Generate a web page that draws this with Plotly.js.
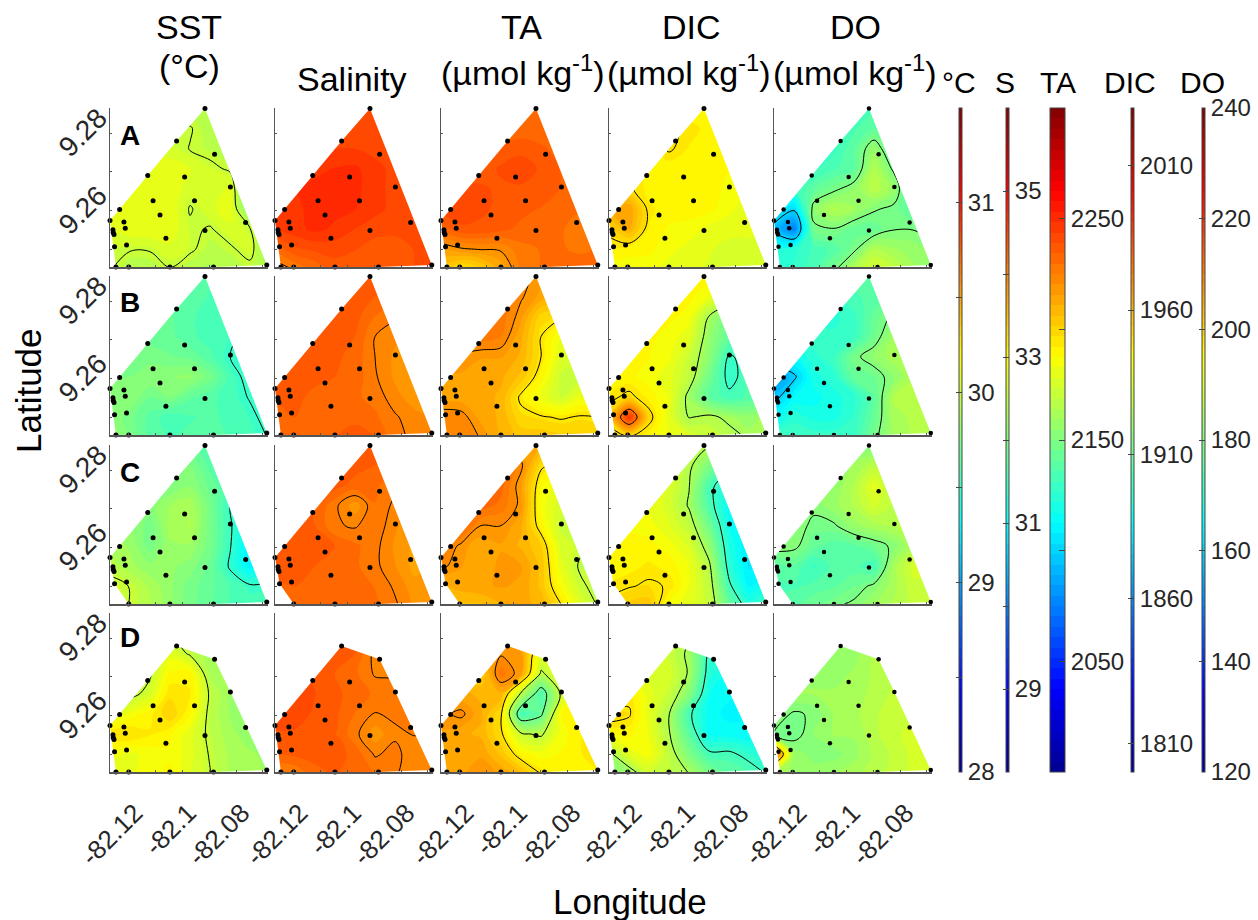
<!DOCTYPE html>
<html><head><meta charset="utf-8">
<script src="https://cdn.plot.ly/plotly-3.0.1.min.js"></script>
<style>html,body{margin:0;padding:0;background:#fff}</style></head>
<body><div id="chart" style="width:1258px;height:920px"></div>
<script>
const gridLon=[-82.1271,-82.1196,-82.1122,-82.1047,-82.0972,-82.0897,-82.0822,-82.0748,-82.0673];
const gridLat=[9.2864,9.2812,9.2760,9.2709,9.2657,9.2605,9.2553,9.2501,9.2450];
const stationLon=[-82.0916,-82.1022,-82.0880,-82.1130,-82.0992,-82.0821,-82.1110,-82.0955,-82.1235,-82.1084,-82.1271,-82.1219,-82.1214,-82.0764,-82.0916,-82.1260,-82.1259,-82.1256,-82.1062,-82.1254,-82.1209,-82.1249,-82.1201,-82.1047,-82.0884,-82.0685];
const stationLat=[9.2864,9.2780,9.2746,9.2691,9.2687,9.2661,9.2626,9.2626,9.2603,9.2589,9.2575,9.2571,9.2555,9.2570,9.2549,9.2551,9.2544,9.2539,9.2529,9.2507,9.2512,9.2455,9.2455,9.2455,9.2455,9.2460];
const missingStations=[[],[2,13],[21],[0]];

const sstA=[[29.93,29.93,29.93,29.93,29.93,29.93,29.93,29.93,29.93],
[30,30,30,29.97,30.01,29.93,29.9,29.9,29.9],
[30.06,30.06,30.06,30.04,29.995,29.96,29.92,29.9,29.9],
[30.09,30.09,30.1,30.12,30.08,30.03,29.98,29.9,29.9],
[30.12,30.12,30.12,30.12,30.05,30.04,30.09,29.7,29.7],
[30.09,30.09,30.13,30.13,29.99,30.06,30.12,29.75,29.7],
[30.07,30.12,30.13,30.12,30.02,29.99,30.06,30.01,29.7],
[30.02,30.01,30.01,30.06,30.02,29.95,29.98,30.05,29.8],
[30.01,29.92,29.93,29.995,29.93,29.9,29.93,29.96,29.9]];
const sstB=[[29.6,29.6,29.6,29.6,29.6,29.6,29.6,29.6,29.6],
[29.65,29.65,29.65,29.65,29.62,29.58,29.56,29.55,29.55],
[29.7,29.7,29.7,29.65,29.6,29.55,29.55,29.5,29.5],
[29.7,29.7,29.68,29.66,29.6,29.56,29.53,29.45,29.45],
[29.72,29.72,29.72,29.7,29.68,29.6,29.5,29.42,29.42],
[29.75,29.75,29.8,29.8,29.82,29.72,29.56,29.45,29.42],
[29.8,29.8,29.7,29.75,29.65,29.6,29.56,29.49,29.4],
[29.8,29.72,29.62,29.55,29.58,29.6,29.57,29.53,29.45],
[29.85,29.75,29.62,29.58,29.6,29.62,29.58,29.55,29.49]];
const sstC=[[29.65,29.65,29.65,29.65,29.65,29.62,29.6,29.6,29.6],
[29.75,29.75,29.75,29.75,29.75,29.62,29.55,29.5,29.5],
[29.8,29.8,29.78,29.75,29.8,29.68,29.56,29.45,29.45],
[29.8,29.8,29.78,29.86,29.9,29.72,29.5,29.35,29.35],
[29.82,29.82,29.72,29.88,29.92,29.72,29.52,29.3,29.3],
[29.9,29.85,29.72,29.85,29.85,29.72,29.51,29.25,29.25],
[29.95,29.88,29.82,29.82,29.78,29.68,29.48,29.28,29.4],
[30.05,29.995,29.9,29.82,29.72,29.66,29.58,29.52,29.53],
[30.05,29.995,29.93,29.82,29.72,29.65,29.58,29.55,29.55]];
const sstD=[[29.9,29.9,29.9,29.9,29.9,29.9,29.9,29.9,29.9],
[29.9,29.9,29.9,29.98,30,29.9,29.88,29.85,29.85],
[29.9,29.9,29.95,30.1,29.98,29.88,29.85,29.85,29.85],
[29.95,29.95,29.98,30.2,30.22,29.9,29.85,29.85,29.85],
[29.95,29.95,30.05,30.28,30.25,29.98,29.85,29.8,29.8],
[30,30.15,30.22,30.35,30.2,29.96,29.85,29.8,29.8],
[30.3,30.3,30.25,30.2,30.1,29.97,29.88,29.82,29.8],
[30.15,30.12,30.15,30.18,30.1,29.99,29.9,29.87,29.84],
[30.1,30.12,30.17,30.2,30.08,30.005,29.9,29.88,29.85]];

const salA=[[34.4,34.4,34.4,34.4,34.4,34.4,34.4,34.4,34.4],
[34.42,34.42,34.42,34.42,34.42,34.42,34.42,34.42,34.42],
[34.5,34.5,34.5,34.5,34.5,34.45,34.45,34.42,34.42],
[34.55,34.58,34.6,34.63,34.65,34.55,34.45,34.4,34.4],
[34.58,34.62,34.65,34.66,34.66,34.55,34.45,34.4,34.4],
[34.55,34.6,34.66,34.66,34.63,34.55,34.45,34.4,34.4],
[34.5,34.58,34.66,34.6,34.5,34.42,34.4,34.38,34.38],
[34.15,34.35,34.4,34.42,34.38,34.32,34.33,34.38,34.4],
[33.9,34.02,34.15,34.32,34.32,34.27,34.32,34.38,34.42]];
const salB=[[34.3,34.3,34.3,34.3,34.3,34.3,34.3,34.3,34.3],
[34.35,34.35,34.35,34.35,34.3,34.25,34.2,34.2,34.2],
[34.35,34.35,34.35,34.35,34.3,34.12,34.02,33.9,33.9],
[34.3,34.32,34.32,34.32,34.25,34.0,33.9,33.85,33.85],
[34.3,34.3,34.3,34.28,34.2,34.0,33.85,33.8,33.8],
[34.32,34.3,34.28,34.25,34.2,34.02,33.85,33.8,33.8],
[34.25,34.28,34.22,34.2,34.15,34.08,33.92,33.8,33.8],
[34.25,34.25,34.15,34.2,34.22,34.15,34.02,33.92,33.85],
[34.2,34.25,34.2,34.25,34.3,34.25,34.06,33.95,33.88]];
const salC=[[34.3,34.3,34.3,34.3,34.3,34.3,34.3,34.3,34.3],
[34.35,34.35,34.35,34.35,34.3,34.25,34.2,34.2,34.2],
[34.3,34.3,34.3,34.3,34.2,34.15,34.04,33.9,33.9],
[34.3,34.3,34.25,34.04,33.8,34.12,33.96,33.8,33.8],
[34.3,34.3,34.25,34.02,33.98,34.1,33.9,33.75,33.75],
[34.35,34.35,34.3,34.25,34.15,34.05,33.85,33.72,33.75],
[34.3,34.32,34.25,34.2,34.15,34.04,33.88,33.7,33.8],
[34.22,34.25,34.2,34.15,34.18,34.12,33.97,33.8,33.8],
[34.2,34.25,34.25,34.25,34.25,34.15,34.03,33.85,33.82]];
const salD=[[34.2,34.2,34.2,34.2,34.2,34.2,34.2,34.2,34.2],
[34.3,34.3,34.3,34.3,34.3,34.15,34.0,34,34],
[34.35,34.35,34.35,34.35,34.25,33.95,33.9,33.9,33.9],
[34.4,34.4,34.35,34.25,34.15,33.98,33.98,33.9,33.9],
[34.45,34.45,34.38,34.28,34.2,34.1,34.05,34,34],
[34.5,34.45,34.35,34.28,34.12,33.99,34.03,34.02,34],
[34.35,34.35,34.25,34.25,34.05,33.8,33.97,34.01,33.95],
[34.25,34.28,34.3,34.32,34.2,33.98,34.05,33.9,33.88],
[33.95,34.01,34.2,34.25,34.2,34.12,34.02,33.9,33.9]];

const taA=[[2232,2232,2232,2232,2232,2232,2232,2232,2232],
[2232,2232,2232,2232,2232,2232,2232,2232,2232],
[2235,2235,2235,2235,2237,2235,2233,2232,2232],
[2236,2236,2236,2240,2243,2238,2234,2232,2232],
[2240,2240,2240,2238,2238,2238,2234,2232,2232],
[2240,2243,2240,2238,2236,2234,2232,2230,2230],
[2232,2238,2238,2236,2233,2231,2230,2228,2228],
[2215,2219,2220.5,2221,2228,2230,2230,2229,2230],
[2205,2195,2200,2212,2226,2230,2231,2232,2232]];
const taB=[[2225,2225,2225,2225,2222,2218,2215,2215,2215],
[2230,2230,2230,2228,2221,2214,2212,2210,2210],
[2232,2232,2232,2228,2217,2199,2196,2190,2190],
[2232,2230,2228,2225,2212,2195,2183,2178,2178],
[2222,2218,2216,2216,2210,2195,2178,2175,2175],
[2214,2215,2213,2212,2205,2190,2172,2170,2170],
[2212,2213,2213,2210,2193,2182,2173,2182,2180],
[2225,2223,2214,2210,2198,2196,2194,2196,2195],
[2225,2224,2219.5,2210,2205,2205,2203,2203,2200]];
const taC=[[2235,2235,2235,2235,2215,2212,2205,2200,2200],
[2235,2235,2235,2235,2222,2197,2190,2185,2185],
[2235,2235,2235,2232,2216,2188,2180,2178,2178],
[2235,2235,2233,2228,2218,2185,2175,2172,2172],
[2235,2235,2220,2220,2212,2190,2172,2170,2170],
[2228,2218,2212,2215,2210,2202,2176,2172,2165],
[2222,2216,2212,2217,2216,2205,2180,2168,2170],
[2210,2213,2215,2216,2215,2205,2186,2172,2165],
[2205,2205,2205,2210,2212,2210,2196,2178,2168]];
const taD=[[2205,2205,2205,2205,2205,2205,2205,2205,2205],
[2205,2205,2205,2215,2212,2200,2190,2185,2185],
[2205,2205,2205,2219,2216,2180,2175,2175,2175],
[2205,2205,2200,2228,2216,2168,2180,2190,2195],
[2212,2212,2210,2210,2168,2135,2172,2190,2195],
[2218,2222,2212,2197,2132,2142,2188,2192,2198],
[2215,2212,2210,2197,2172,2168,2185,2192,2195],
[2212,2215,2215,2205,2190,2185,2188,2192,2195],
[2212,2215,2218,2215,2208,2195,2192,2192,2192]];

const dicA=[[1944,1944,1944,1944,1944,1944,1944,1944,1944],
[1945,1945,1945,1951,1949,1946,1945,1945,1945],
[1945,1945,1945,1951,1947,1947,1943,1942,1942],
[1950,1950,1946,1945,1944,1945,1944,1942,1942],
[1955,1951,1946,1944,1944,1947,1942,1940,1940],
[1962,1965,1948,1946,1946,1945,1941,1938,1938],
[1952,1962,1947,1943,1942,1939,1938,1937,1937],
[1947,1945,1945,1941,1939,1937,1935,1936,1936],
[1942,1942,1941,1939,1938,1936,1935,1936,1937]];
const dicB=[[1948,1948,1948,1948,1948,1946,1946,1946,1946],
[1947,1947,1947,1947,1945,1940,1935,1930,1930],
[1946,1946,1946,1945,1942,1924.5,1912,1905,1905],
[1945,1945,1945,1942,1938,1920,1908,1905,1905],
[1944,1944,1944,1941,1932,1918,1899,1903,1903],
[1944,1945,1942,1938,1930,1912,1897,1904,1904],
[1948,1952,1946,1940,1922,1908,1902,1905,1910],
[1955,1990,1953,1938,1924.5,1927,1923,1920,1924],
[1944,1949,1945,1941,1937,1933,1928,1924,1926]];
const dicC=[[1935,1935,1935,1935,1938,1926,1926,1926,1926],
[1940,1940,1940,1938,1927,1915,1905,1900,1900],
[1943,1943,1942,1936,1925.5,1903,1892,1888,1888],
[1942,1942,1940,1935,1924,1904,1888,1885,1885],
[1943,1943,1942,1937,1930,1912,1890,1884,1884],
[1945,1945,1945,1942,1936,1920,1893,1882,1882],
[1945,1946,1948,1946,1940,1927,1896,1882,1884],
[1948,1949.5,1951,1949.5,1940,1930,1902,1886,1893],
[1952,1956,1957,1942,1938,1932,1910,1896,1902]];
const dicD=[[1925,1925,1925,1925,1920,1920,1920,1920,1920],
[1935,1935,1935,1932,1926,1905,1900,1900,1900],
[1935,1935,1935,1932,1923,1899,1892,1890,1890],
[1935,1935,1935,1935,1924,1895,1888,1887,1887],
[1935,1948,1938,1932,1917,1890,1887,1886,1886],
[1955,1951,1938,1925.5,1902,1888,1885,1886,1888],
[1943,1945,1940,1926,1907,1889,1888,1887,1890],
[1922,1938,1942,1930,1915,1902,1902,1897,1892],
[1918,1918,1932,1930,1925,1915,1908,1905,1899]];

const doA=[[174,174,174,174,174,174,174,174,174],
[175,175,175,175,174,176,176,176,176],
[172,172,172,172,176,183,175,175,175],
[172,172,172,174,176,186,179,172,172],
[172,172,176,179,182,187,183,172,172],
[165,161,182,186,184,180.5,179,175,175],
[158,150,179,179.8,177,177,179.8,179.8,178],
[168,170,173,175,179,186,184,183,181],
[170,171,174,179,186,190,188,184,182]];
const doB=[[176,176,176,176,176,176,176,176,176],
[172,172,172,172,174,175,176,176,176],
[170,170,170,170,172,177,181,183,183],
[172,172,172,171,172,178,184,185,185],
[165,166,170,172,179,182,185,186,186],
[152,159,168,170,177,178,182,186,186],
[158,165,166,168,170,176,186,186,186],
[165,170,168,168,171,177,185,186,186],
[172,172,172,172,172,179,184,186,185]];
const doC=[[180,180,180,180,180,180,180,180,180],
[182,182,182,182,184,187,183,183,183],
[182,182,182,182,186,192,186,186,186],
[182,182,181,183,186,190,187,185,185],
[182,182,179,179.5,183,185,186,186,186],
[182,181,177,175,176,178,181,186,186],
[175,176,172,175,175,173,185,190,190],
[174,174,175,176,178,181,185,189,188],
[175,176,178,179.5,181,184,186,188,188]];
const doD=[[182,182,182,182,182,182,182,182,182],
[182,182,182,182,183,184,184,184,184],
[182,182,182,182,183,186,186,186,186],
[183,183,183,183,184,186,187,187,187],
[184,184,184,184,185,186,188,188,188],
[182,179.5,180.5,184,185,187,189,189,189],
[180,178.5,182,184,184,187,189,190,190],
[215,183,181,181,183,186,188,190,190],
[185,183,183,184,185,187,188,190,191]];

const blank='\u00a0';
const sstTicks=[28,28.5,29,29.5,30,30.5,31,31.5];
const sstTickText=['28',blank,'29',blank,'30',blank,'31',blank];
const salTicks=[28,29,30,31,32,33,34,35,36];
const salTickText=[blank,'29',blank,'31',blank,'33',blank,'35',blank];
const taTicks=[2050,2100,2150,2200,2250];
const taTickText=['2050',blank,'2150',blank,'2250'];
const dicTicks=[1810,1860,1910,1960,2010];
const dicTickText=['1810','1860','1910','1960','2010'];
const doTicks=[120,140,160,180,200,220,240];
const doTickText=['120','140','160','180','200','220','240'];
const lonTicks=[-82.12,-82.1,-82.08];
const lonTickText=['-82.12','-82.1','-82.08'];
const lonMinor=[-82.11,-82.09,-82.07];
const latTicks=[9.26,9.28];
const latTickText=['9.26','9.28'];
const latMinor=[9.25,9.27];

const jet=[[0,'#00008f'],[0.125,'#0000ff'],[0.375,'#00ffff'],[0.625,'#ffff00'],[0.875,'#ff0000'],[1,'#800000']];
const W=1258,H=920;
const colLeft=[110,275,441,609,774], rowTop=[108,276,445,613], panelW=158, panelH=159;
const xRange=[-82.1271,-82.06804], yRange=[9.2455,9.2865];
const letters=['A','B','C','D'];
const font='"Liberation Sans",Arial,sans-serif';
const columns=[
 {grids:[sstA,sstB,sstC,sstD],zmin:28,zmax:31.5,line:[29,31,0.5],cbX:959,cbT:3,ticks:sstTicks,text:sstTickText,mk:5},
 {grids:[salA,salB,salC,salD],zmin:28,zmax:36,line:[32,36,1],cbX:1006,cbT:3,ticks:salTicks,text:salTickText,mk:5},
 {grids:[taA,taB,taC,taD],zmin:2000,zmax:2300,line:[2145,2245,25],cbX:1050,cbT:15,ticks:taTicks,text:taTickText,mk:5},
 {grids:[dicA,dicB,dicC,dicD],zmin:1800,zmax:2030,line:[1900,2000,25],cbX:1131,cbT:3,ticks:dicTicks,text:dicTickText,mk:5},
 {grids:[doA,doB,doC,doD],zmin:120,zmax:240,line:[160,200,20],cbX:1202,cbT:3,ticks:doTicks,text:doTickText,mk:4.5}
];
function hull(pts){
 const p=pts.slice().sort((a,b)=>a[0]-b[0]||a[1]-b[1]);
 const cross=(o,a,b)=>(a[0]-o[0])*(b[1]-o[1])-(a[1]-o[1])*(b[0]-o[0]);
 const lo=[],up=[];
 for(const q of p){while(lo.length>1&&cross(lo[lo.length-2],lo[lo.length-1],q)<=0)lo.pop();lo.push(q);}
 for(const q of p.slice().reverse()){while(up.length>1&&cross(up[up.length-2],up[up.length-1],q)<=0)up.pop();up.push(q);}
 return lo.slice(0,-1).concat(up.slice(0,-1));
}
const traces=[],layout={width:W,height:H,margin:{l:0,r:0,t:0,b:0},paper_bgcolor:'#fff',plot_bgcolor:'#fff',showlegend:false,font:{family:font,color:'#262626'},annotations:[]};
columns.forEach((c,ci)=>{
 c.grids.forEach((z,ri)=>{
  const k=ri*5+ci+1, sfx=k===1?'':k;
  const xa='x'+sfx, ya='y'+sfx;
  const band=(c.zmax-c.zmin)/64;
  traces.push({type:'contour',x:gridLon,y:gridLat,z:z,xaxis:xa,yaxis:ya,autocontour:false,zmin:c.zmin,zmax:c.zmax,colorscale:jet,
   contours:{coloring:'fill',showlines:false,start:c.zmin,end:c.zmax,size:band},line:{width:0,smoothing:1},hoverinfo:'skip',
   showscale:ri===0,
   colorbar:ri===0?{x:c.cbX/W,xanchor:'left',xref:'paper',y:1-108/H,yanchor:'top',yref:'paper',len:664/H,lenmode:'fraction',thickness:c.cbT,thicknessmode:'pixels',xpad:0,ypad:0,
     outlinewidth:1,outlinecolor:'#444',tickmode:'array',tickvals:c.ticks,ticktext:c.text,ticks:'inside',ticklen:6,tickwidth:1,tickcolor:'#444',tickfont:{size:24,family:font,color:'#262626'}}:undefined});
  traces.push({type:'contour',x:gridLon,y:gridLat,z:z,xaxis:xa,yaxis:ya,autocontour:false,showscale:false,
   contours:{coloring:'none',start:c.line[0],end:c.line[1],size:c.line[2]},line:{color:'#000',width:1,smoothing:1},hoverinfo:'skip'});
  const sx=[],sy=[];
  stationLon.forEach((v,i)=>{if(!missingStations[ri].includes(i)){sx.push(v);sy.push(stationLat[i]);}});
  const h=hull(sx.map((v,i)=>[v,sy[i]]));
  const x0=xRange[0]-0.002,x1=xRange[1]+0.002,y0=yRange[0]-0.002,y1=yRange[1]+0.002;
  const ring=[[x0,y0],[x1,y0],[x1,y1],[x0,y1],[x0,y0]].concat(h.slice().reverse().concat([h[h.length-1]])).concat([[x0,y0]]);
  traces.push({type:'scatter',mode:'lines',x:ring.map(q=>q[0]),y:ring.map(q=>q[1]),xaxis:xa,yaxis:ya,fill:'toself',fillcolor:'#fff',line:{width:0,color:'#fff'},hoverinfo:'skip'});
  traces.push({type:'scatter',mode:'markers',x:sx,y:sy,xaxis:xa,yaxis:ya,cliponaxis:false,marker:{color:'#000',size:c.mk},hoverinfo:'skip'});
  const bottom=ri===3,left=ci===0;
  layout['xaxis'+sfx]={domain:[colLeft[ci]/W,(colLeft[ci]+panelW)/W],range:xRange,anchor:ya,showgrid:false,zeroline:false,showline:true,linecolor:'#555',linewidth:1.5,
    tickmode:'array',tickvals:lonTicks,ticktext:lonTickText,showticklabels:bottom,minor:{tickmode:'array',tickvals:lonMinor,ticks:'inside',ticklen:2,tickcolor:'#555'},
    ticks:'inside',ticklen:2,tickcolor:'#555',tickangle:-45,tickfont:{size:26,family:font,color:'#262626'},ticklabelstandoff:14,ticklabelshift:6};
  layout['yaxis'+sfx]={domain:[1-(rowTop[ri]+panelH)/H,1-rowTop[ri]/H],range:yRange,anchor:xa,showgrid:false,zeroline:false,showline:true,linecolor:'#555',linewidth:1.5,
    tickmode:'array',tickvals:latTicks,ticktext:latTickText,showticklabels:left,minor:{tickmode:'array',tickvals:latMinor,ticks:'inside',ticklen:2,tickcolor:'#555'},
    ticks:'inside',ticklen:2,tickcolor:'#555',tickangle:-45,tickfont:{size:28,family:font,color:'#262626'},ticklabelstandoff:4,ticklabelshift:-19};
 });
});
function label(text,x,y,size,opt){layout.annotations.push(Object.assign({text:text,xref:'paper',yref:'paper',x:x/W,y:1-y/H,xanchor:'center',yanchor:'middle',showarrow:false,font:{size:size,family:font,color:'#000'}},opt||{}));}
label('SST',189,27,34);label('(°C)',189,66,34);label('Salinity',352,79,34);
label('TA',521,27,34);label('(µmol kg<sup>-1</sup>)',523,70,34);
label('DIC',691,27,34);label('(µmol kg<sup>-1</sup>)',689,70,34);
label('DO',855,27,34);label('(µmol kg<sup>-1</sup>)',855,70,34);
label('°C',959,83,30);label('S',1005,83,30);label('TA',1058,83,30);label('DIC',1130,83,30);label('DO',1202,83,30);
label('Latitude',28,391,35,{textangle:-90});label('Longitude',630,901,35);
letters.forEach((t,i)=>label('<b>'+t+'</b>',130,[135,302,472,637][i],28));
Plotly.newPlot('chart',traces,layout,{staticPlot:true});
</script></body></html>
